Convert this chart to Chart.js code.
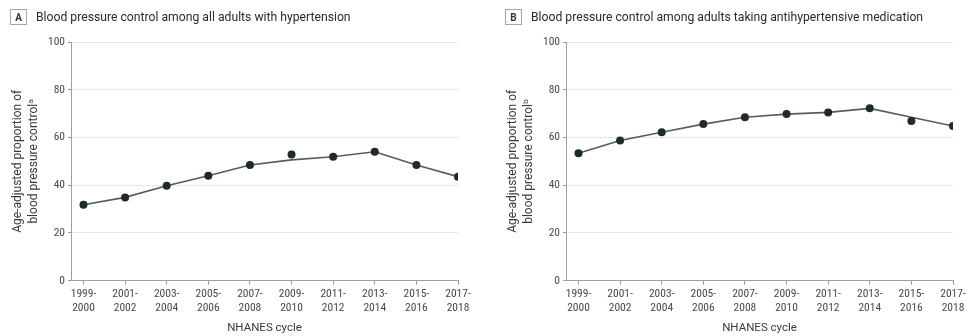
<!DOCTYPE html>
<html>
<head>
<meta charset="utf-8">
<script src="https://cdn.jsdelivr.net/npm/chart.js@4/dist/chart.umd.min.js"></script>
<style>
  html, body { margin: 0; padding: 0; background: #fff; }
  #wrap { position: relative; width: 978px; height: 336px; overflow: hidden; font-family: Roboto, "Liberation Sans", sans-serif; }
  .panel { position: absolute; top: 0; width: 489px; height: 336px; }
  .head { position: absolute; top: 9px; left: 10px; display: flex; align-items: center; white-space: nowrap; }
  .tag { width: 15px; height: 14px; border: 1px solid #a5a5a5; font-size: 10px; font-weight: bold; color: #333; display: flex; align-items: center; justify-content: center; margin-right: 9px; }
  .ttl { font-size: 12.2px; color: #2b2b2b; }
</style>
</head>
<body>
<div id="wrap">
  <div class="panel" style="left:0px">
    <div class="head"><div class="tag">A</div><div class="ttl">Blood pressure control among all adults with hypertension</div></div>
    <canvas id="chartA" width="489" height="336"></canvas>
  </div>
  <div class="panel" style="left:495px">
    <div class="head"><div class="tag">B</div><div class="ttl">Blood pressure control among adults taking antihypertensive medication</div></div>
    <canvas id="chartB" width="489" height="336"></canvas>
  </div>
</div>
<script>
// NHANES survey cycles (two-line tick labels)
const cycles = [
  ["1999-", "2000"], ["2001-", "2002"], ["2003-", "2004"], ["2005-", "2006"], ["2007-", "2008"],
  ["2009-", "2010"], ["2011-", "2012"], ["2013-", "2014"], ["2015-", "2016"], ["2017-", "2018"]
];
const yTicks = [0, 20, 40, 60, 80, 100];

// Panel A: all adults with hypertension
const estimatesA = [31.8, 34.9, 39.8, 44.0, 48.5, 52.9, 51.9, 54.0, 48.5, 43.6];
const trendA     = [31.8, 34.9, 39.8, 44.0, 48.5, 50.6, 51.9, 54.0, 48.5, 43.6];

// Panel B: adults taking antihypertensive medication
const estimatesB = [53.4, 58.7, 62.2, 65.6, 68.5, 69.8, 70.5, 72.2, 66.9, 64.8];
const trendB     = [53.4, 58.7, 62.2, 65.6, 68.5, 69.8, 70.5, 72.2, 68.5, 64.8];

const TICK_FONT = "'Liberation Sans Narrow', 'Roboto Condensed', 'Liberation Sans', sans-serif";
const TEXT_FONT = "Roboto, 'DejaVu Sans', 'Liberation Sans', sans-serif";

function makeChart(id, estimates, trend, yTitle) {
  const toXY = arr => arr.map((v, i) => ({ x: i, y: v }));
  return new Chart(document.getElementById(id), {
    type: 'line',
    data: {
      datasets: [
        {
          label: 'estimate',
          data: toXY(estimates),
          showLine: false,
          pointRadius: 4,
          pointBackgroundColor: '#1e2b2a',
          pointBorderColor: '#1e2b2a',
          pointBorderWidth: 0,
          order: 0
        },
        {
          label: 'trend',
          data: toXY(trend),
          borderColor: '#575c5b',
          borderWidth: 1.6,
          pointRadius: 0,
          tension: 0,
          order: 1
        }
      ]
    },
    options: {
      responsive: false,
      animation: false,
      events: [],
      layout: { padding: { top: 42, right: 31, bottom: 0, left: 0 } },
      plugins: { legend: { display: false }, tooltip: { enabled: false } },
      scales: {
        x: {
          type: 'linear',
          min: -0.3,
          max: 9,
          afterBuildTicks: s => { s.ticks = cycles.map((_, i) => ({ value: i })); },
          afterFit: s => { s.height = 55.3; },
          ticks: {
            autoSkip: false,
            maxRotation: 0,
            padding: 2,
            color: '#4a4a4a',
            font: { family: TICK_FONT, size: 11.5, lineHeight: 1.25 },
            callback: v => cycles[v]
          },
          grid: { drawOnChartArea: false, drawTicks: true, tickLength: 4, tickColor: '#9a9a9a' },
          border: { display: true, color: '#a0a0a0', width: 1 },
          title: {
            display: true,
            text: 'NHANES cycle',
            color: '#3a3a3a',
            font: { family: TEXT_FONT, size: 11.5, lineHeight: 1.3 },
            padding: { top: 0, bottom: 0 }
          }
        },
        y: {
          min: 0,
          max: 100,
          afterBuildTicks: s => { s.ticks = yTicks.map(v => ({ value: v })); },
          afterFit: s => { s.width = 71; },
          ticks: {
            padding: 3,
            color: '#4a4a4a',
            font: { family: TICK_FONT, size: 11.5 }
          },
          grid: { color: '#e6e6e6', lineWidth: 1, tickLength: 3, tickColor: '#9a9a9a' },
          border: { display: true, color: '#a0a0a0', width: 1 },
          title: {
            display: true,
            text: yTitle,
            color: '#3a3a3a',
            font: { family: TEXT_FONT, size: 12, lineHeight: 1.35 },
            padding: { top: 10, bottom: 0 }
          }
        }
      }
    }
  });
}

makeChart('chartA', estimatesA, trendA, ['Age-adjusted proportion of', 'blood pressure control\u1d43']);
makeChart('chartB', estimatesB, trendB, ['Age-adjusted proportion of', 'blood pressure control\u1d47']);
</script>
</body>
</html>
